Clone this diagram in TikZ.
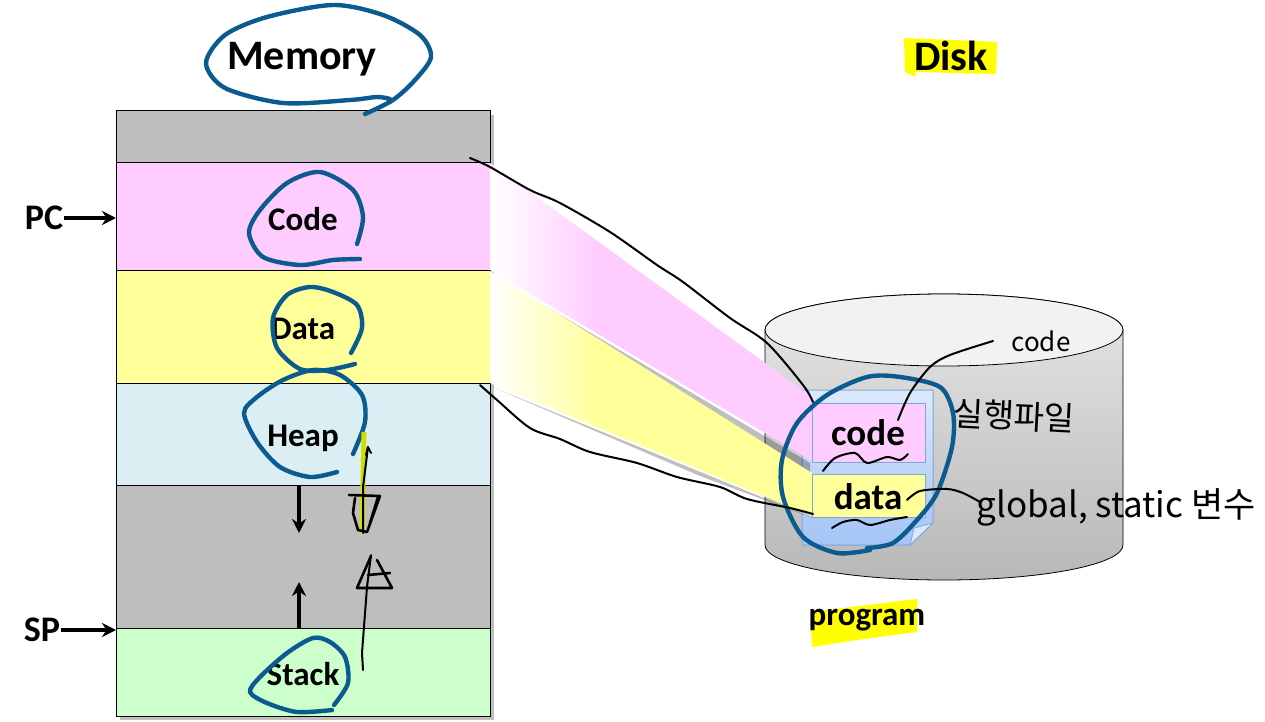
\documentclass[tikz,border=0pt]{standalone}
\usepackage{fontspec}
\usepackage{tikz}
\usetikzlibrary{arrows.meta}
\setmainfont{Carlito}
\newfontfamily\handfont{Noto Sans CJK KR}

\definecolor{rowgray}{HTML}{BEBEBE}
\definecolor{rowpink}{HTML}{FFCCFF}
\definecolor{rowyellow}{HTML}{FFFF99}
\definecolor{rowblue}{HTML}{DAEEF3}
\definecolor{rowgreen}{HTML}{CCFFCC}
\definecolor{penblue}{HTML}{0B5A90}
\definecolor{markyellow}{HTML}{FFFF00}
\definecolor{markgreen}{HTML}{CFE000}
\definecolor{docedge}{HTML}{7FA6D9}
\definecolor{doctop}{HTML}{DCE9FC}
\definecolor{docbottom}{HTML}{A4C4F5}
\definecolor{drumtop}{HTML}{E6E6E6}
\definecolor{drumbottom}{HTML}{B8B8B8}
\definecolor{drumlid}{HTML}{F2F2F2}

\pgfdeclarehorizontalshading{pinkfade}{100bp}{color(0bp)=(white); color(25bp)=(white); color(42bp)=(rowpink); color(100bp)=(rowpink)}
\pgfdeclarehorizontalshading{yellowfade}{100bp}{color(0bp)=(white); color(25bp)=(white); color(42bp)=(rowyellow); color(100bp)=(rowyellow)}

\tikzset{
  memrow/.style={draw=black, line width=1pt},
  memlabel/.style={font=\bfseries\fontsize{33}{33}\selectfont},
  sidelabel/.style={font=\bfseries\fontsize{36}{36}\selectfont},
  filelabel/.style={font=\bfseries\fontsize{37}{37}\selectfont},
  bigtitle/.style={font=\bfseries\fontsize{42}{42}\selectfont},
  bluepen/.style={draw=penblue, line width=4.4pt, line cap=round, line join=round},
  thinpen/.style={draw=black, line width=2pt, line cap=round, line join=round},
  scribble/.style={thinpen, line width=2.6pt},
  blockarrow/.style={draw=black, line width=3.5pt, -{Stealth[length=14pt,width=14pt]}}
}

\begin{document}
\begin{tikzpicture}[x=1pt, y=-1pt]
        \useasboundingbox (0,0) rectangle (1265,722);

        % highlighter behind the titles
        \fill[markyellow] (904,38) -- (930,39) -- (997,42) -- (996,74) -- (915,72) -- (915,77) -- (905,72) -- cycle;
        \fill[markyellow] (810,612) -- (917,599) -- (917,632) -- (857,640) -- (812,647) -- cycle;

        % memory column
        \fill[black, opacity=0.25] (120,115) rectangle (494,720);
        \filldraw[memrow, fill=rowgray] (116,111) rectangle (490,163);
        \filldraw[memrow, fill=rowpink] (116,163) rectangle (490,270);
        \filldraw[memrow, fill=rowyellow] (116,270) rectangle (490,383);
        \filldraw[memrow, fill=rowblue] (116,383) rectangle (490,485);
        \filldraw[memrow, fill=rowgray] (116,485) rectangle (490,628);
        \filldraw[memrow, fill=rowgreen] (116,628) rectangle (490,716);

        % disk
        \shade[top color=drumtop, bottom color=drumbottom, draw=black, line width=0.8pt]
            (765,330) -- (765,545) arc(180:0:179 and 35) -- (1123,330) arc(0:-180:179 and 36) -- cycle;
        \filldraw[fill=drumlid, draw=black, line width=0.8pt] (944,330) ellipse (179 and 36);

        % program sheet
        \shade[top color=doctop, bottom color=docbottom, draw=docedge, line width=1pt]
            (802,390) -- (933,390) -- (933,523) -- (910,545) -- (802,545) -- cycle;
        \filldraw[fill=doctop, draw=docedge, line width=0.8pt] (933,523) -- (910,545) -- (914,528) -- cycle;

        % ribbons from memory to the sheet
        \fill[black, opacity=0.25] (490,273) -- (810,463) -- (810,475) -- cycle;
        \fill[black, opacity=0.25] (490,386) -- (813,518) -- (700,476) -- cycle;
        \shade[shading=pinkfade] (490,163) -- (812,397) -- (812,461) -- (490,270) -- cycle;
        \shade[shading=yellowfade] (490,271) -- (812,473) -- (812,516) -- (490,383) -- cycle;

        \filldraw[fill=rowpink, draw=docedge, line width=1pt] (812,403) rectangle (925,462);
        \filldraw[fill=rowyellow, draw=docedge, line width=1pt] (812,474) rectangle (925,517);

        % labels
        \node[bigtitle] (memorytitle) at (302,59) {Memory};
        \node[bigtitle] (disktitle) at (951,56) {Disk};
        \node[memlabel] (codelabel) at (303,219) {Code};
        \node[memlabel] (datalabel) at (303,329) {Data};
        \node[memlabel] (heaplabel) at (303,438) {Heap};
        \node[memlabel] (stacklabel) at (303,674) {Stack};
        \node[sidelabel, inner sep=1pt] (pclabel) at (44,218) {PC};
        \node[sidelabel, inner sep=1pt] (splabel) at (42,630) {SP};
        \node[filelabel] (filecode) at (868,433) {code};
        \node[filelabel] (filedata) at (868,497) {data};
        \node[memlabel] (programlabel) at (867,620) {program};

        % arrows
        \coordinate (pcend) at (116,218);
        \coordinate (spend) at (116,630);
        \coordinate (heapfrom) at (299,486);
        \coordinate (heapto) at (299,533);
        \coordinate (stackfrom) at (299,628);
        \coordinate (stackto) at (299,582);
        \draw[blockarrow] (pclabel.east) -- (pcend);
        \draw[blockarrow] (splabel.east) -- (spend);
        \draw[blockarrow] (heapfrom) -- (heapto);
        \draw[blockarrow] (stackfrom) -- (stackto);

        % pen notes in blue
        \draw[bluepen] plot[smooth] coordinates {(365,114) (393,100) (415,80) (431,57) (420,35) (383,15) (333,5) (267,17) (225,35) (206,63) (225,88) (283,103) (350,100) (377,97) (390,99)};
        \draw[bluepen] plot[smooth] coordinates {(357,244) (363,217) (353,190) (320,172) (287,183) (260,210) (249,233) (263,257) (300,265) (333,260) (360,259)};
        \draw[bluepen] plot[smooth] coordinates {(351,353) (362,328) (357,305) (333,292) (310,287) (287,295) (273,318) (277,348) (300,369) (327,370) (355,364)};
        \draw[bluepen] plot[smooth] coordinates {(353,454) (365,422) (362,395) (340,375) (313,370) (283,380) (257,397) (244,413) (257,442) (280,467) (310,477) (337,472)};
        \draw[bluepen] plot[smooth] coordinates {(334,705) (348,683) (345,657) (330,642) (313,638) (287,653) (260,677) (250,692) (267,703) (297,712) (332,710)};
        \draw[bluepen] plot[smooth] coordinates {(867,548) (893,543) (917,520) (937,493) (952,447) (953,413) (940,387) (900,377) (867,377) (827,395) (797,423) (782,460) (783,497) (803,537) (837,553) (870,550)};

        % pen notes in black
        \draw[markgreen, line width=5pt] (364,432) -- (362,533);
        \draw[thinpen] plot[smooth] coordinates {(470,158) (490,167) (530,190) (560,203) (610,232) (657,265) (683,282) (730,318) (767,343) (803,385) (813,402)};
        \draw[thinpen] plot[smooth] coordinates {(480,385) (497,400) (530,428) (560,439) (590,452) (637,463) (677,477) (720,487) (747,499) (790,508) (813,514)};
        \draw[thinpen] plot[smooth] coordinates {(898,420) (910,393) (930,367) (950,355) (993,341)};
        \draw[thinpen] plot[smooth] coordinates {(823,471) (835,458) (855,453) (867,463) (887,457) (900,460) (908,454)};
        \draw[thinpen] plot[smooth] coordinates {(832,528) (843,522) (857,520) (870,525) (890,520) (907,517)};
        \draw[thinpen] plot[smooth] coordinates {(907,500) (920,491) (947,489) (963,493) (980,502)};

        \draw[thinpen] (363,533) -- (363,487) -- (368,447);
        \draw[thinpen] (366,455) -- (368,447) -- (371,453);
        \draw[scribble] (349,495) -- (380,496) -- (367,532) -- (358,530) -- (353,513) -- (355,498);
        \draw[scribble] (378,497) -- (370,523);
        \draw[thinpen] (363,670) -- (362,653) -- (367,587) -- (371,555);
        \draw[scribble] (371,556) -- (357,588) -- (392,588) -- (377,560);
        \draw[scribble] (368,575) -- (390,573);

        % handwriting
        \node[font=\handfont\fontsize{26}{26}\selectfont] (notecode) at (1041,341) {code};
        \node[font=\handfont\fontsize{33}{33}\selectfont, rotate=-3] (noteexe) at (1014,416) {실행파일};
        \node[font=\handfont\fontsize{35}{35}\selectfont] (noteglobal) at (1116,507) {global, static 변수};
\end{tikzpicture}
\end{document}
